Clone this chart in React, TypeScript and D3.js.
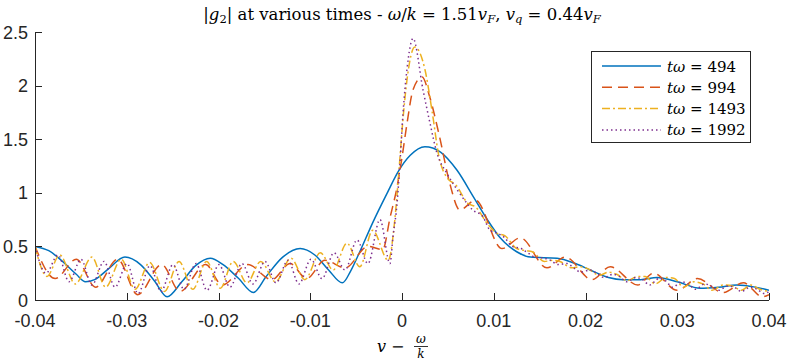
import React from "react";
import * as d3 from "d3";

// |g2| vs v - w/k
const xTicks = [-0.04, -0.03, -0.02, -0.01, 0, 0.01, 0.02, 0.03, 0.04];
const xTickLabels = ["-0.04", "-0.03", "-0.02", "-0.01", "0", "0.01", "0.02", "0.03", "0.04"];
const yTicks = [0, 0.5, 1, 1.5, 2, 2.5];
const yTickLabels = ["0", "0.5", "1", "1.5", "2", "2.5"];

const seriesNames = ["494", "994", "1493", "1992"];

// t*w = 494
const g494: [number, number][] = [
  [-0.04, 0.5], [-0.0385, 0.46], [-0.037, 0.36], [-0.0355, 0.24], [-0.0345, 0.17],
  [-0.0335, 0.19], [-0.032, 0.29], [-0.0302, 0.4], [-0.0285, 0.33], [-0.027, 0.18],
  [-0.0256, 0.03], [-0.024, 0.17], [-0.0225, 0.32], [-0.0209, 0.39], [-0.0195, 0.33],
  [-0.0178, 0.2], [-0.0162, 0.07], [-0.0148, 0.22], [-0.013, 0.4], [-0.0111, 0.48],
  [-0.0095, 0.42], [-0.008, 0.28], [-0.0065, 0.16], [-0.0056, 0.27], [-0.0046, 0.45],
  [-0.0032, 0.72], [-0.0016, 1.0], [-0.0004, 1.2], [0.0009, 1.35], [0.0025, 1.43],
  [0.0042, 1.38], [0.006, 1.21], [0.0078, 0.96], [0.0093, 0.75], [0.0107, 0.58],
  [0.0125, 0.45], [0.014, 0.4], [0.0169, 0.39], [0.0189, 0.34], [0.0205, 0.28],
  [0.0225, 0.21], [0.0241, 0.19], [0.026, 0.19], [0.0278, 0.21], [0.03, 0.17],
  [0.0325, 0.11], [0.0345, 0.12], [0.0365, 0.14], [0.0385, 0.12], [0.04, 0.09],
];

// t*w = 994
const g994: [number, number][] = [
  [-0.04, 0.5], [-0.0378, 0.2], [-0.0355, 0.38], [-0.0334, 0.12], [-0.031, 0.38],
  [-0.0288, 0.05], [-0.0262, 0.33], [-0.0242, 0.08], [-0.0214, 0.33], [-0.0196, 0.14],
  [-0.0168, 0.33], [-0.0142, 0.19], [-0.0122, 0.34], [-0.0104, 0.2], [-0.0084, 0.37],
  [-0.0062, 0.3], [-0.0037, 0.5], [-0.0021, 0.47], [-0.0013, 0.77], [-0.00055, 1.05],
  [0.0, 1.33], [0.00055, 1.65], [0.0012, 1.96], [0.0022, 2.08], [0.003, 1.9],
  [0.0041, 1.52], [0.0052, 1.09], [0.0063, 0.84], [0.008, 0.93], [0.0109, 0.48],
  [0.0129, 0.58], [0.0158, 0.3], [0.0178, 0.4], [0.0207, 0.19], [0.0227, 0.31],
  [0.0257, 0.14], [0.0274, 0.25], [0.03, 0.09], [0.0322, 0.2], [0.035, 0.07],
  [0.0372, 0.16], [0.0393, 0.03], [0.04, 0.05],
];

// t*w = 1493
const g1493: [number, number][] = [
  [-0.04, 0.5], [-0.0387, 0.22], [-0.0373, 0.42], [-0.0356, 0.15], [-0.0338, 0.4],
  [-0.0323, 0.12], [-0.0306, 0.38], [-0.0291, 0.1], [-0.0275, 0.35], [-0.0259, 0.08],
  [-0.0243, 0.36], [-0.0228, 0.1], [-0.0213, 0.36], [-0.0198, 0.11], [-0.0184, 0.36],
  [-0.0169, 0.16], [-0.0154, 0.36], [-0.0138, 0.17], [-0.0121, 0.39], [-0.0106, 0.19],
  [-0.0089, 0.44], [-0.0075, 0.28], [-0.006, 0.53], [-0.0046, 0.31], [-0.0032, 0.65],
  [-0.0015, 0.37], [-0.00076, 0.77], [-0.00033, 1.21], [0.0001, 1.68], [0.00054, 2.05],
  [0.0014, 2.36], [0.0025, 2.15], [0.0033, 1.75], [0.004, 1.35], [0.005, 1.13],
  [0.0058, 1.08], [0.0072, 0.9], [0.008, 0.87], [0.0094, 0.7], [0.0104, 0.62],
  [0.0112, 0.6], [0.0125, 0.48], [0.0135, 0.46], [0.0142, 0.45], [0.0155, 0.36],
  [0.0165, 0.37], [0.0172, 0.36], [0.0185, 0.3], [0.0195, 0.31], [0.0203, 0.29],
  [0.0215, 0.23], [0.0225, 0.26], [0.0234, 0.24], [0.0245, 0.18], [0.0257, 0.22],
  [0.0265, 0.22], [0.0276, 0.15], [0.0288, 0.21], [0.0297, 0.2], [0.0307, 0.12],
  [0.0318, 0.17], [0.0328, 0.15], [0.0338, 0.09], [0.035, 0.14], [0.036, 0.13],
  [0.037, 0.09], [0.038, 0.14], [0.039, 0.1], [0.04, 0.08],
];

// t*w = 1992
const g1992: [number, number][] = [
  [-0.04, 0.5], [-0.0388, 0.25], [-0.03749, 0.42], [-0.03629, 0.17], [-0.03499, 0.38],
  [-0.03379, 0.14], [-0.03248, 0.36], [-0.03128, 0.12], [-0.02997, 0.34], [-0.02877, 0.06],
  [-0.02747, 0.32], [-0.02627, 0.08], [-0.02496, 0.33], [-0.02376, 0.1], [-0.02245, 0.34],
  [-0.02125, 0.09], [-0.01995, 0.33], [-0.01875, 0.12], [-0.01744, 0.34], [-0.01624, 0.15],
  [-0.01493, 0.36], [-0.01373, 0.16], [-0.01243, 0.37], [-0.01123, 0.15], [-0.00992, 0.38],
  [-0.00872, 0.2], [-0.00741, 0.44], [-0.00621, 0.28], [-0.0049, 0.56], [-0.00371, 0.34],
  [-0.0024, 0.75], [-0.00131, 0.34], [-0.00098, 0.59], [-0.00054, 0.9], [-0.00022, 1.28],
  [0.00011, 1.74], [0.00054, 2.15], [0.0012, 2.44], [0.00229, 1.96], [0.00305, 1.65],
  [0.00381, 1.37], [0.0049, 1.18], [0.006, 1.03], [0.0071, 0.9], [0.0077, 0.84],
  [0.0088, 0.78], [0.0096, 0.65], [0.0105, 0.62], [0.0112, 0.58], [0.012, 0.5],
  [0.013, 0.48], [0.0137, 0.44], [0.0145, 0.4], [0.0155, 0.39], [0.0162, 0.37],
  [0.017, 0.33], [0.018, 0.34], [0.0187, 0.3], [0.0195, 0.26], [0.0205, 0.28],
  [0.0212, 0.25], [0.022, 0.21], [0.023, 0.24], [0.0237, 0.22], [0.0245, 0.17],
  [0.0255, 0.21], [0.0262, 0.19], [0.027, 0.14], [0.028, 0.2], [0.0287, 0.18],
  [0.0295, 0.12], [0.0305, 0.17], [0.0312, 0.15], [0.032, 0.1], [0.033, 0.15],
  [0.0337, 0.13], [0.0345, 0.09], [0.0355, 0.13], [0.0362, 0.12], [0.037, 0.08],
  [0.038, 0.12], [0.0387, 0.1], [0.0395, 0.06], [0.04, 0.08],
];

const seriesData = [g494, g994, g1493, g1992];
const colors = ["#0072BD", "#D95319", "#EDB120", "#7E2F8E"];
const dashes = [null, "10,6", "8,3,2,3", "1.5,3"];

const W = 789;
const H = 360;
const left = 35, right = 769, top = 32, bottom = 300;
const axisColor = "#262626";
const serif = "'DejaVu Serif', 'Liberation Serif', serif";
const sans = "'Liberation Sans', Arial, sans-serif";

export default function App() {
  const x = d3.scaleLinear().domain([-0.04, 0.04]).range([left, right]);
  const y = d3.scaleLinear().domain([0, 2.5]).range([bottom, top]);
  const line = d3
    .line<[number, number]>()
    .x((d) => x(d[0]))
    .y((d) => y(d[1]))
    .curve(d3.curveMonotoneX);

  const tickLen = 7;
  const legX = 591, legY = 51, legW = 159, legH = 91;

  return (
    <svg
      width={W}
      height={H}
      style={{ position: "absolute", left: 0, top: 0, background: "#fff" }}
    >
      <defs>
        <clipPath id="plot">
          <rect x={left} y={top - 10} width={right - left} height={bottom - top + 10} />
        </clipPath>
      </defs>

      {/* title */}
      <text x={402} y={20} textAnchor="middle" fontFamily={serif} fontSize={16.5} fill="#000">
        <tspan>|</tspan>
        <tspan fontStyle="italic">g</tspan>
        <tspan fontSize={11.5} dy={3}>2</tspan>
        <tspan dy={-3}>| at various times - </tspan>
        <tspan fontStyle="italic">ω</tspan>
        <tspan>/</tspan>
        <tspan fontStyle="italic">k</tspan>
        <tspan> = 1.51</tspan>
        <tspan fontStyle="italic">v</tspan>
        <tspan fontStyle="italic" fontSize={11.5} dy={3}>F</tspan>
        <tspan dy={-3}>, </tspan>
        <tspan fontStyle="italic">v</tspan>
        <tspan fontStyle="italic" fontSize={11.5} dy={3}>q</tspan>
        <tspan dy={-3}> = 0.44</tspan>
        <tspan fontStyle="italic">v</tspan>
        <tspan fontStyle="italic" fontSize={11.5} dy={3}>F</tspan>
      </text>

      {/* data */}
      <g clipPath="url(#plot)">
        {seriesData.map((s, i) => (
          <path
            key={i}
            d={line(s) || ""}
            fill="none"
            stroke={colors[i]}
            strokeWidth={1.5}
            strokeDasharray={dashes[i] || undefined}
          />
        ))}
      </g>

      {/* axes */}
      <g stroke={axisColor} strokeWidth={1} fill="none">
        <line x1={left} x2={right} y1={bottom + 0.5} y2={bottom + 0.5} />
        <line x1={left + 0.5} x2={left + 0.5} y1={top} y2={bottom + 0.5} />
        {xTicks.map((t) => (
          <line key={"xt" + t} x1={Math.round(x(t)) + 0.5} x2={Math.round(x(t)) + 0.5} y1={bottom} y2={bottom - tickLen} />
        ))}
        {yTicks.map((t) => (
          <line key={"yt" + t} x1={left} x2={left + tickLen} y1={Math.round(y(t)) + 0.5} y2={Math.round(y(t)) + 0.5} />
        ))}
      </g>
      <g fontFamily={sans} fontSize={18} fill={axisColor}>
        {xTicks.map((t, i) => (
          <text key={"xl" + t} x={x(t)} y={327} textAnchor="middle">
            {xTickLabels[i]}
          </text>
        ))}
        {yTicks.map((t, i) => (
          <text key={"yl" + t} x={28} y={y(t) + 6.5} textAnchor="end">
            {yTickLabels[i]}
          </text>
        ))}
      </g>

      {/* x label: v - w/k */}
      <g fontFamily={serif} fill="#000">
        <text x={377} y={352} fontSize={16} fontStyle="italic">v</text>
        <text x={391} y={352} fontSize={16}>−</text>
        <text x={421} y={343} fontSize={12} fontStyle="italic" textAnchor="middle">ω</text>
        <line x1={414} x2={428} y1={346.5} y2={346.5} stroke="#000" strokeWidth={0.8} />
        <text x={421} y={358} fontSize={12} fontStyle="italic" textAnchor="middle">k</text>
      </g>

      {/* legend */}
      <rect x={legX + 0.5} y={legY + 0.5} width={legW} height={legH} fill="#fff" stroke={axisColor} strokeWidth={1} />
      {seriesNames.map((n, i) => {
        const ly = 66 + i * 21.3;
        return (
          <g key={n}>
            <line
              x1={602}
              x2={661}
              y1={ly}
              y2={ly}
              stroke={colors[i]}
              strokeWidth={1.5}
              strokeDasharray={dashes[i] || undefined}
            />
            <text x={667} y={ly + 5.5} fontFamily={serif} fontSize={15} fill="#000">
              <tspan fontStyle="italic">tω</tspan>
              <tspan> = {n}</tspan>
            </text>
          </g>
        );
      })}
    </svg>
  );
}
